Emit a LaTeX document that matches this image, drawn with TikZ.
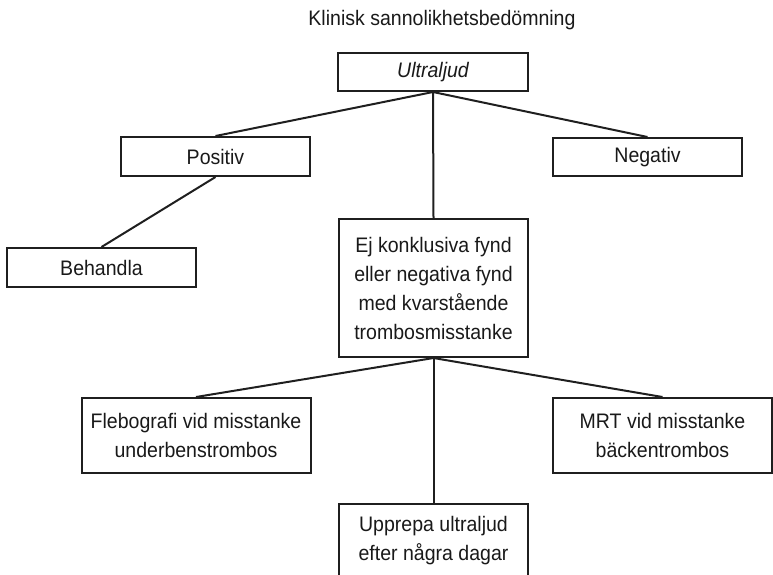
\documentclass[tikz,border=0pt]{standalone}
\usepackage{fontspec}
\setmainfont{Liberation Sans}[FakeStretch=0.93]
\begin{document}
\begin{tikzpicture}[x=1pt,y=-1pt,
  every node/.style={font=\fontsize{21}{29}\selectfont, text=black!90},
  box/.style={draw=black!88, line width=2pt, inner sep=0pt, align=center},
  link/.style={draw=black!88, line width=2pt}]
\useasboundingbox (0,0) rectangle (773,574);
\clip (0,0) rectangle (773,574);

\node (title) at (442,20) {Klinisk sannolikhetsbedömning};

\node[box, minimum width=190pt, minimum height=38pt] (ultra) at (433,72) {\itshape Ultraljud};
\node[box, minimum width=189pt, minimum height=39pt] (pos) at (215.5,156.5) {Positiv};
\node[box, minimum width=189pt, minimum height=38pt] (neg) at (647.5,157) {Negativ};
\node[box, minimum width=189pt, minimum height=39pt] (beh) at (101.5,267.5) {Behandla};
\node[box, minimum width=189pt, minimum height=138pt] (mid) at (433.5,288)
  {Ej konklusiva fynd\\eller negativa fynd\\med kvarstående\\trombosmisstanke};
\node[box, minimum width=229pt, minimum height=75pt] (fleb) at (196,435.5)
  {Flebografi vid misstanke\\underbenstrombos};
\node[box, minimum width=219pt, minimum height=75pt] (mrt) at (662.5,435.5)
  {MRT vid misstanke\\bäckentrombos};
\node[box, minimum width=189pt, anchor=north, inner ysep=12pt] (upp) at (433.5,503)
  {Upprepa ultraljud\\efter några dagar\rule[-40pt]{0pt}{0pt}};

\draw[link] (ultra.south) -- (pos.north);
\draw[link] (ultra.south) -- (neg.north);
\draw[link] (ultra.south) -- (mid.north);
\draw[link] (pos.south) -- (beh.north);
\draw[link] (mid.south) -- (fleb.north);
\draw[link] (mid.south) -- (mrt.north);
\draw[link] (mid.south) -- (upp.north);
\end{tikzpicture}
\end{document}
